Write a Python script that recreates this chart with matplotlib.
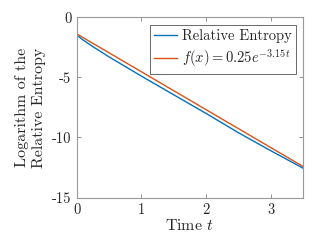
import matplotlib
matplotlib.use("Agg")
import matplotlib.pyplot as plt
import numpy as np

plt.rcParams['font.family'] = ['cmr10', 'DejaVu Serif']
plt.rcParams['mathtext.fontset'] = 'cm'
plt.rcParams['axes.unicode_minus'] = False

t_blue = [0.0, 0.1, 0.25, 0.5, 1.0, 1.5, 2.0, 2.5, 3.0, 3.5]
log_rel_entropy = [-1.5, -1.9, -2.45, -3.3, -4.9, -6.45, -8.0, -9.6, -11.1, -12.55]

t_fit = [0.0, 3.5]
fit_amp = 0.25
fit_rate = 3.15

xticks = [0, 1, 2, 3]
yticks = [-15, -10, -5, 0]

fit_vals = [np.log(fit_amp) - fit_rate * t for t in t_fit]

fig = plt.figure(figsize=(3.15, 2.47), dpi=100)
ax = fig.add_axes([0.244, 0.2, 0.718, 0.73])

ax.plot(t_blue, log_rel_entropy, color='#0072BD', lw=1.0, label='Relative Entropy')
ax.plot(t_fit, fit_vals, color='#D95319', lw=1.0, label=r'$f(x) = 0.25e^{-3.15t}$')

ax.set_xlim(0, 3.5)
ax.set_ylim(-15, 0)
ax.set_xticks(xticks)
ax.set_yticks(yticks)
ax.set_xticklabels([str(v) for v in xticks], fontsize=10.5)
ax.set_yticklabels([str(v) for v in yticks], fontsize=10.5)
ax.tick_params(direction='in', top=True, right=True, length=3, width=0.6,
               color='#808080', labelcolor='#262626', pad=4)
for s in ax.spines.values():
    s.set_color('#999999')
    s.set_linewidth(0.8)

ax.set_xlabel(r'Time $t$', fontsize=11.5, color='#262626', labelpad=1)
ax.set_ylabel('Logarithm of the\nRelative Entropy', fontsize=11.5, color='#262626',
              linespacing=1.25, labelpad=4)

leg = ax.legend(loc='upper right', fontsize=10.5, frameon=True, fancybox=False,
                edgecolor='#262626', handlelength=1.6, handletextpad=0.3,
                borderpad=0.3, labelspacing=0.3, borderaxespad=0.5)
leg.get_frame().set_linewidth(0.6)
for txt in leg.get_texts():
    txt.set_color('#262626')

fig.savefig('out.png', dpi=100)
